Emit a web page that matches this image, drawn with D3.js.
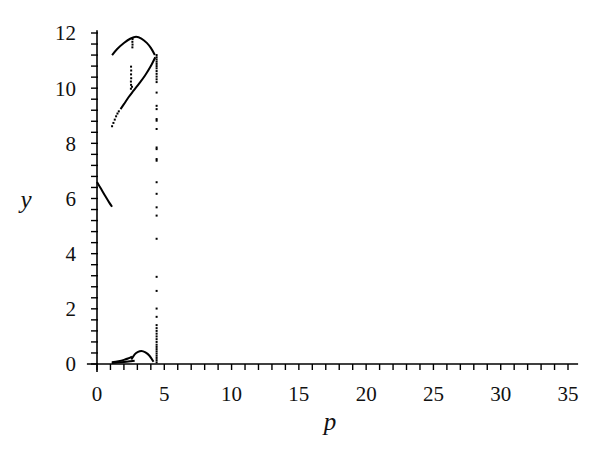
<!DOCTYPE html>
<html>
<head>
<meta charset="utf-8">
<script src="https://cdn.jsdelivr.net/npm/d3@7"></script>
<style>
  body { margin: 0; background: #fff; }
  text { font-family: "Liberation Serif", "DejaVu Serif", serif; fill: #111; }
</style>
</head>
<body>
<svg id="chart" width="600" height="461"></svg>
<script>
// tick values
const xTicks = [0, 5, 10, 15, 20, 25, 30, 35];
const yTicks = [0, 2, 4, 6, 8, 10, 12];

// solid branches (p, y)
const leftBranch = [[0, 6.6], [0.3, 6.35], [0.6, 6.1], [0.9, 5.86], [1.12, 5.7]];
const upperArch = [[1.12, 11.2], [1.5, 11.42], [2.0, 11.64], [2.5, 11.8], [2.9, 11.86],
  [3.3, 11.8], [3.7, 11.64], [4.0, 11.46], [4.3, 11.2]];
const risingLine = [[1.75, 9.24], [2.0, 9.42], [2.33, 9.66], [2.7, 9.9], [3.1, 10.15],
  [3.57, 10.46], [4.0, 10.8], [4.33, 11.12]];
const lowArch = [[2.55, 0.16], [2.8, 0.35], [3.05, 0.44], [3.3, 0.47], [3.6, 0.42],
  [3.9, 0.3], [4.2, 0.08]];
const lowStrandA = [[1.1, 0.04], [1.5, 0.05], [2.0, 0.07], [2.5, 0.1], [2.8, 0.12]];
const lowStrandB = [[1.1, 0.06], [1.6, 0.1], [2.0, 0.15], [2.3, 0.2], [2.6, 0.27]];

// scattered points
const risingDots = [[1.12, 8.62], [1.22, 8.74], [1.32, 8.86], [1.42, 8.98],
  [1.52, 9.08], [1.62, 9.16]];
const midDots = [[2.52, 9.98], [2.53, 10.12], [2.52, 10.24], [2.54, 10.36],
  [2.53, 10.5], [2.54, 10.64], [2.53, 10.78], [2.6, 10.05],
  [2.63, 11.48], [2.64, 11.58], [2.63, 11.68], [2.64, 11.78]];
const edgeY = [11.2, 11.12, 11.04, 10.96, 10.88, 10.8, 10.72, 10.62, 10.52,
  10.42, 10.32, 10.22, 9.84, 9.36, 9.24, 8.88, 8.82, 8.52, 7.85, 7.79, 7.43, 7.37,
  6.59, 6.17, 5.68, 5.38, 4.54, 3.16, 2.65, 2.01, 1.71, 1.41, 1.3, 1.2, 1.1, 1.0, 0.9,
  0.8, 0.7, 0.62, 0.54, 0.46, 0.38, 0.3, 0.22, 0.14, 0.06];
const edgeP = 4.43;

const svg = d3.select('#chart');

const x = d3.scaleLinear().domain([0, 35]).range([97, 568]);
const y = d3.scaleLinear().domain([0, 12]).range([364, 33]);

// axes
svg.append('line')
  .attr('x1', x(-0.75)).attr('x2', x(35.75))
  .attr('y1', y(0)).attr('y2', y(0))
  .attr('stroke', '#000').attr('stroke-width', 1.6);
svg.append('line')
  .attr('x1', x(0)).attr('x2', x(0))
  .attr('y1', y(12.1)).attr('y2', y(0) + 8)
  .attr('stroke', '#000').attr('stroke-width', 1.6);

svg.selectAll('line.xtick')
  .data(d3.range(0, 36, 1))
  .enter()
  .append('line')
  .classed('xtick', true)
  .attr('x1', d => x(d)).attr('x2', d => x(d))
  .attr('y1', y(0)).attr('y2', y(0) + 6)
  .attr('stroke', '#000').attr('stroke-width', 1.4);

svg.selectAll('line.ytick')
  .data(d3.range(0, 31, 1).map(i => i * 0.4))
  .enter()
  .append('line')
  .classed('ytick', true)
  .attr('x1', x(0) - 6).attr('x2', x(0) + 1)
  .attr('y1', d => y(d)).attr('y2', d => y(d))
  .attr('stroke', '#000').attr('stroke-width', 1.4);

svg.selectAll('text.xlab')
  .data(xTicks)
  .enter()
  .append('text')
  .classed('xlab', true)
  .attr('x', d => x(d))
  .attr('y', y(0) + 37)
  .attr('text-anchor', 'middle')
  .style('font-size', '21px')
  .text(d => d);

svg.selectAll('text.ylab')
  .data(yTicks)
  .enter()
  .append('text')
  .classed('ylab', true)
  .attr('x', 76)
  .attr('y', d => y(d))
  .attr('dy', '0.35em')
  .attr('text-anchor', 'end')
  .style('font-size', '21px')
  .text(d => d);

svg.append('text')
  .attr('x', 330).attr('y', 430)
  .attr('text-anchor', 'middle')
  .style('font-size', '25px').style('font-style', 'italic')
  .text('p');

svg.append('text')
  .attr('x', 26).attr('y', 203)
  .attr('dy', '0.2em')
  .attr('text-anchor', 'middle')
  .style('font-size', '25px').style('font-style', 'italic')
  .text('y');

// branches
const line = d3.line()
  .x(d => x(d[0]))
  .y(d => y(d[1]))
  .curve(d3.curveMonotoneX);

svg.selectAll('path.branch')
  .data([leftBranch, upperArch, risingLine, lowArch, lowStrandA, lowStrandB])
  .enter()
  .append('path')
  .classed('branch', true)
  .attr('d', line)
  .attr('fill', 'none')
  .attr('stroke', '#000')
  .attr('stroke-width', 2);

const dots = risingDots.concat(midDots, edgeY.map(v => [edgeP, v]));

svg.selectAll('rect.dot')
  .data(dots)
  .enter()
  .append('rect')
  .classed('dot', true)
  .attr('x', d => x(d[0]) - 1)
  .attr('y', d => y(d[1]) - 1)
  .attr('width', 2)
  .attr('height', 2)
  .attr('fill', '#000');
</script>
</body>
</html>
